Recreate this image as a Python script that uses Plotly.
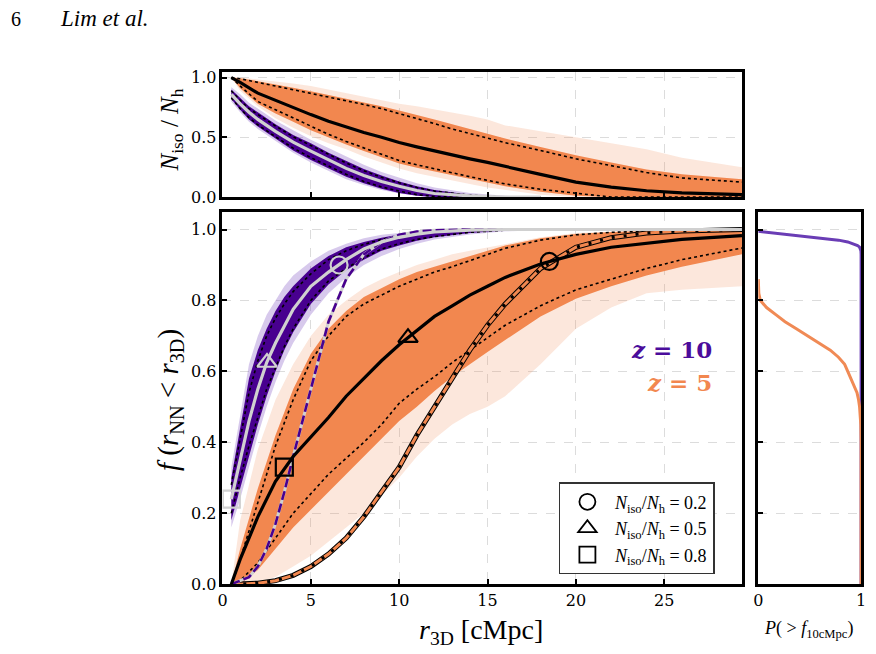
import plotly.graph_objects as go

# ---------------- data ----------------
# main panel, z = 5
X5 = [0.5, 1, 2, 3, 4, 5, 6, 7, 8, 9, 10, 11, 12, 13, 14, 15, 16, 18, 20, 22, 24, 26, 29.4]
z5_median = [0.0, 0.07, 0.19, 0.29, 0.36, 0.415, 0.47, 0.53, 0.58, 0.63, 0.675, 0.715, 0.755, 0.785, 0.815, 0.84, 0.865, 0.903, 0.93, 0.95, 0.962, 0.972, 0.983]
z5_dot_hi = [0.0, 0.07, 0.23, 0.39, 0.52, 0.63, 0.70, 0.755, 0.79, 0.815, 0.84, 0.86, 0.88, 0.895, 0.912, 0.93, 0.947, 0.97, 0.985, 0.992, 0.996, 0.998, 1.0]
z5_dot_lo = [0.0, 0.01, 0.06, 0.13, 0.20, 0.255, 0.31, 0.355, 0.40, 0.45, 0.51, 0.55, 0.585, 0.625, 0.66, 0.695, 0.73, 0.785, 0.83, 0.86, 0.89, 0.915, 0.948]
z5_band_hi = [0.0, 0.10, 0.27, 0.42, 0.55, 0.65, 0.72, 0.77, 0.81, 0.835, 0.86, 0.88, 0.895, 0.91, 0.925, 0.94, 0.955, 0.975, 0.987, 0.993, 0.996, 0.998, 1.0]
z5_band_lo = [0.0, 0.0, 0.04, 0.10, 0.16, 0.21, 0.26, 0.31, 0.36, 0.41, 0.46, 0.50, 0.545, 0.585, 0.62, 0.655, 0.69, 0.755, 0.805, 0.84, 0.87, 0.895, 0.93]
z5_env_hi = [0.0, 0.18, 0.38, 0.52, 0.62, 0.70, 0.76, 0.80, 0.835, 0.86, 0.88, 0.90, 0.915, 0.93, 0.94, 0.95, 0.96, 0.978, 0.99, 0.995, 0.998, 1.0, 1.0]
z5_env_lo = [0.0, 0.0, 0.005, 0.02, 0.05, 0.08, 0.12, 0.16, 0.20, 0.25, 0.30, 0.36, 0.41, 0.45, 0.48, 0.50, 0.53, 0.62, 0.72, 0.78, 0.82, 0.83, 0.84]
z5_random = [0.0, 0.0, 0.003, 0.01, 0.025, 0.05, 0.085, 0.13, 0.19, 0.26, 0.33, 0.42, 0.50, 0.58, 0.66, 0.73, 0.79, 0.89, 0.95, 0.977, 0.99, 0.996, 1.0]

# main panel, z = 10
X10 = [0.5, 1, 1.5, 2, 2.5, 3, 3.5, 4, 5, 6, 7, 8, 9, 10, 11, 12, 14, 16, 20, 29.4]
z10_median = [0.24, 0.35, 0.46, 0.55, 0.625, 0.68, 0.73, 0.775, 0.84, 0.88, 0.915, 0.945, 0.965, 0.978, 0.987, 0.993, 0.998, 1.0, 1.0, 1.0]
z10_band_hi = [0.30, 0.44, 0.58, 0.66, 0.72, 0.77, 0.81, 0.84, 0.89, 0.925, 0.95, 0.965, 0.977, 0.986, 0.992, 0.996, 0.999, 1.0, 1.0, 1.0]
z10_band_lo = [0.18, 0.27, 0.36, 0.45, 0.53, 0.60, 0.66, 0.71, 0.79, 0.845, 0.885, 0.915, 0.94, 0.955, 0.968, 0.978, 0.99, 0.997, 1.0, 1.0]
z10_env_hi = [0.33, 0.48, 0.62, 0.70, 0.76, 0.80, 0.84, 0.87, 0.91, 0.94, 0.96, 0.975, 0.985, 0.99, 0.995, 0.998, 1.0, 1.0, 1.0, 1.0]
z10_env_lo = [0.16, 0.24, 0.33, 0.42, 0.50, 0.57, 0.63, 0.68, 0.76, 0.82, 0.865, 0.90, 0.925, 0.945, 0.96, 0.972, 0.986, 0.995, 1.0, 1.0]
z10_dot_hi = [0.28, 0.41, 0.54, 0.63, 0.70, 0.75, 0.79, 0.825, 0.875, 0.915, 0.94, 0.958, 0.972, 0.982, 0.989, 0.994, 0.998, 1.0, 1.0, 1.0]
z10_dot_lo = [0.20, 0.30, 0.39, 0.47, 0.55, 0.61, 0.67, 0.72, 0.80, 0.855, 0.89, 0.92, 0.945, 0.96, 0.972, 0.98, 0.992, 0.998, 1.0, 1.0]
z10_random = [0.0, 0.01, 0.02, 0.05, 0.10, 0.17, 0.26, 0.36, 0.55, 0.74, 0.86, 0.93, 0.965, 0.985, 0.994, 0.998, 1.0, 1.0, 1.0, 1.0]

# markers: N_iso/N_h = 0.2 (circle), 0.5 (triangle), 0.8 (square)
iso_levels = [0.2, 0.5, 0.8]
z5_mark_x = [18.5, 10.5, 3.5]
z5_mark_y = [0.91, 0.695, 0.33]
z10_mark_x = [6.6, 2.52, 0.5]
z10_mark_y = [0.90, 0.625, 0.24]

# top panel  N_iso / N_h
XT5 = [0.5, 1, 2, 3, 4, 5, 6, 7, 8, 9, 10, 11, 12, 13, 14, 15, 16, 18, 20, 22, 24, 26, 29.4]
t5_median = [1.0, 0.96, 0.87, 0.81, 0.745, 0.69, 0.635, 0.585, 0.54, 0.50, 0.456, 0.42, 0.385, 0.35, 0.32, 0.29, 0.255, 0.19, 0.125, 0.083, 0.053, 0.035, 0.02]
t5_dot_hi = [1.0, 0.99, 0.96, 0.93, 0.90, 0.87, 0.84, 0.81, 0.775, 0.74, 0.70, 0.66, 0.615, 0.57, 0.53, 0.49, 0.455, 0.39, 0.32, 0.263, 0.205, 0.16, 0.125]
t5_dot_lo = [1.0, 0.93, 0.80, 0.73, 0.66, 0.59, 0.525, 0.465, 0.41, 0.355, 0.305, 0.27, 0.235, 0.20, 0.17, 0.14, 0.11, 0.065, 0.03, 0.0, 0.0, 0.0, 0.0]
t5_band_hi = [1.0, 0.995, 0.97, 0.945, 0.915, 0.885, 0.855, 0.825, 0.79, 0.76, 0.725, 0.69, 0.65, 0.61, 0.57, 0.53, 0.49, 0.42, 0.35, 0.29, 0.23, 0.19, 0.15]
t5_band_lo = [1.0, 0.91, 0.78, 0.70, 0.63, 0.56, 0.50, 0.44, 0.385, 0.33, 0.28, 0.245, 0.21, 0.18, 0.15, 0.12, 0.09, 0.045, 0.01, 0.0, 0.0, 0.0, 0.0]
t5_env_hi = [1.0, 1.0, 0.985, 0.97, 0.95, 0.93, 0.90, 0.87, 0.84, 0.81, 0.78, 0.76, 0.735, 0.71, 0.68, 0.65, 0.60, 0.55, 0.50, 0.45, 0.40, 0.33, 0.25]
t5_env_lo = [1.0, 0.89, 0.76, 0.66, 0.58, 0.51, 0.45, 0.40, 0.34, 0.29, 0.24, 0.20, 0.17, 0.14, 0.11, 0.08, 0.06, 0.02, 0.0, 0.0, 0.0, 0.0, 0.0]

XT10 = [0.5, 1, 1.5, 2, 3, 4, 5, 6, 7, 8, 9, 10, 11, 12, 14, 16, 18]
t10_median = [0.86, 0.78, 0.71, 0.65, 0.55, 0.46, 0.385, 0.31, 0.24, 0.18, 0.13, 0.09, 0.055, 0.03, 0.01, 0.0, 0.0]
t10_band_hi = [0.90, 0.83, 0.76, 0.71, 0.61, 0.52, 0.45, 0.37, 0.30, 0.235, 0.18, 0.13, 0.09, 0.06, 0.02, 0.005, 0.0]
t10_band_lo = [0.82, 0.73, 0.65, 0.59, 0.49, 0.39, 0.31, 0.24, 0.17, 0.115, 0.07, 0.035, 0.012, 0.0, 0.0, 0.0, 0.0]
t10_env_hi = [0.92, 0.86, 0.79, 0.74, 0.64, 0.56, 0.48, 0.41, 0.34, 0.27, 0.21, 0.16, 0.115, 0.08, 0.035, 0.01, 0.0]
t10_env_lo = [0.80, 0.71, 0.63, 0.57, 0.47, 0.37, 0.29, 0.22, 0.15, 0.10, 0.06, 0.03, 0.01, 0.0, 0.0, 0.0, 0.0]
t10_dot_hi = [0.89, 0.81, 0.74, 0.69, 0.595, 0.505, 0.43, 0.355, 0.285, 0.22, 0.165, 0.12, 0.08, 0.05, 0.015, 0.0, 0.0]
t10_dot_lo = [0.83, 0.74, 0.665, 0.605, 0.505, 0.41, 0.33, 0.26, 0.19, 0.13, 0.085, 0.05, 0.02, 0.005, 0.0, 0.0, 0.0]

# right panel  P(> f_10cMpc)
p10_f = [0.995, 0.99, 0.985, 0.98, 0.975, 0.97, 0.965, 0.96, 0.955, 0.95, 0.94, 0.93, 0.0]
p10_P = [0.0, 0.15, 0.32, 0.48, 0.64, 0.78, 0.87, 0.93, 0.965, 0.985, 0.998, 1.0, 1.0]
p5_f = [0.86, 0.82, 0.80, 0.78, 0.76, 0.74, 0.72, 0.70, 0.68, 0.66, 0.64, 0.62, 0.60, 0.58, 0.56, 0.54, 0.52, 0.50, 0.45, 0.40, 0.0]
p5_P = [0.0, 0.005, 0.02, 0.08, 0.17, 0.26, 0.37, 0.48, 0.60, 0.70, 0.78, 0.84, 0.87, 0.90, 0.935, 0.96, 0.975, 0.985, 0.997, 1.0, 1.0]

main_xticks = [0, 5, 10, 15, 20, 25]
main_yticks = [0.0, 0.2, 0.4, 0.6, 0.8, 1.0]
top_yticks = [0.0, 0.5, 1.0]

# ---------------- style ----------------
ORANGE = "#F2874F"
ORANGE_LT = "rgba(242,135,79,0.20)"
PURPLE = "#48008F"
PURPLE_LT = "rgba(110,60,185,0.28)"
PURPLE_LINE = "#6A3DB5"
ORANGE_LINE = "#F08A55"
GRAY = "#D0D0D0"
SERIF = "DejaVu Serif"
MATH = "Liberation Serif"

W, H = 876, 654


def band(x, hi, lo, color, xa, ya):
    return go.Scatter(x=list(x) + list(x)[::-1], y=list(hi) + list(lo)[::-1],
                      fill="toself", fillcolor=color, line=dict(width=0),
                      mode="lines", hoverinfo="skip", showlegend=False,
                      xaxis=xa, yaxis=ya)


def line(x, y, color, width, xa, ya, dash="solid"):
    return go.Scatter(x=x, y=y, mode="lines", line=dict(color=color, width=width, dash=dash),
                      hoverinfo="skip", showlegend=False, xaxis=xa, yaxis=ya)


fig = go.Figure()

# ----- top panel -----
fig.add_trace(band(XT5, t5_env_hi, t5_env_lo, ORANGE_LT, "x2", "y2"))
fig.add_trace(band(XT5, t5_band_hi, t5_band_lo, ORANGE, "x2", "y2"))
fig.add_trace(band(XT10, t10_env_hi, t10_env_lo, PURPLE_LT, "x2", "y2"))
fig.add_trace(band(XT10, t10_band_hi, t10_band_lo, PURPLE, "x2", "y2"))
for arr in (t5_dot_hi, t5_dot_lo):
    fig.add_trace(line(XT5, arr, "black", 1.6, "x2", "y2", "dot"))
for arr in (t10_dot_hi, t10_dot_lo):
    fig.add_trace(line(XT10, arr, "black", 1.6, "x2", "y2", "dot"))
fig.add_trace(line(XT5, t5_median, "black", 3.2, "x2", "y2"))
fig.add_trace(line(XT10, t10_median, GRAY, 3.2, "x2", "y2"))

# ----- main panel -----
fig.add_trace(band(X5, z5_env_hi, z5_env_lo, ORANGE_LT, "x", "y"))
fig.add_trace(band(X5, z5_band_hi, z5_band_lo, ORANGE, "x", "y"))
fig.add_trace(band(X10, z10_env_hi, z10_env_lo, PURPLE_LT, "x", "y"))
fig.add_trace(band(X10, z10_band_hi, z10_band_lo, PURPLE, "x", "y"))
for arr in (z5_dot_hi, z5_dot_lo):
    fig.add_trace(line(X5, arr, "black", 1.6, "x", "y", "dot"))
for arr in (z10_dot_hi, z10_dot_lo):
    fig.add_trace(line(X10, arr, "black", 1.6, "x", "y", "dot"))
# random expectation curves
fig.add_trace(line(X5, z5_random, "black", 5, "x", "y"))
fig.add_trace(line(X5, z5_random, ORANGE, 3, "x", "y"))
fig.add_trace(line(X5, z5_random, "black", 3, "x", "y", "3px,9px"))
fig.add_trace(line(X10, z10_random, GRAY, 3, "x", "y"))
fig.add_trace(line(X10, z10_random, PURPLE, 2.6, "x", "y", "9px,4px"))
# medians
fig.add_trace(line(X5, z5_median, "black", 3.2, "x", "y"))
fig.add_trace(line(X10, z10_median, GRAY, 3.2, "x", "y"))

symbols = ["circle-open", "triangle-up-open", "square-open"]
fig.add_trace(go.Scatter(x=z5_mark_x, y=z5_mark_y, mode="markers",
                         marker=dict(symbol=symbols, size=17, color="black", line=dict(width=2.2, color="black")),
                         showlegend=False, hoverinfo="skip", xaxis="x", yaxis="y"))
fig.add_trace(go.Scatter(x=z10_mark_x, y=z10_mark_y, mode="markers",
                         marker=dict(symbol=symbols, size=17, color=GRAY, line=dict(width=2.2, color=GRAY)),
                         showlegend=False, hoverinfo="skip", xaxis="x", yaxis="y"))
# legend entries
for sym, lev in zip(symbols, iso_levels):
    fig.add_trace(go.Scatter(x=[None], y=[None], mode="markers",
                             marker=dict(symbol=sym, size=17, color="black", line=dict(width=1.8, color="black")),
                             name=f"<i>N</i><sub>iso</sub>/<i>N</i><sub>h</sub> = {lev}",
                             showlegend=True, xaxis="x", yaxis="y"))

# ----- right panel -----
fig.add_trace(line(p10_P, p10_f, PURPLE_LINE, 3, "x3", "y3"))
fig.add_trace(line(p5_P, p5_f, ORANGE_LINE, 3, "x3", "y3"))

# ---------------- layout ----------------
main_dom_x = [220 / W, 746 / W]
main_dom_y = [1 - 593 / H, 1 - 213 / H]
top_dom_y = [1 - 198 / H, 1 - 70 / H]
right_dom_x = [762 / W, 866 / W]

axis_common = dict(showline=True, mirror=True, linecolor="black", linewidth=2.5,
                   ticks="inside", ticklen=5, tickwidth=2, tickcolor="black",
                   showgrid=True, gridcolor="#DCDCDC", gridwidth=1, griddash="dash",
                   zeroline=False, tickfont=dict(family=SERIF, size=16, color="black"))

fig.update_layout(
    width=W, height=H, margin=dict(l=0, r=0, t=0, b=0),
    paper_bgcolor="white", plot_bgcolor="white",
    xaxis=dict(axis_common, domain=main_dom_x, range=[0, 29.43], tickvals=main_xticks, anchor="y"),
    yaxis=dict(axis_common, domain=main_dom_y, range=[0, 1.05], tickvals=main_yticks,
               tickformat=".1f", anchor="x"),
    xaxis2=dict(axis_common, domain=main_dom_x, range=[0, 29.43], tickvals=main_xticks,
                showticklabels=False, anchor="y2"),
    yaxis2=dict(axis_common, domain=top_dom_y, range=[0, 1.05], tickvals=top_yticks,
                tickformat=".1f", anchor="x2"),
    xaxis3=dict(axis_common, domain=right_dom_x, range=[0, 1], tickvals=[0, 1], showgrid=False,
                ticks="", anchor="y3"),
    yaxis3=dict(axis_common, domain=main_dom_y, range=[0, 1.05], tickvals=main_yticks,
                showticklabels=False, anchor="x3"),
    legend=dict(x=560 / W, y=1 - 489 / H, xanchor="left", yanchor="top",
                bgcolor="white", bordercolor="#333333", borderwidth=1.3,
                font=dict(family=MATH, size=18, color="black"), tracegroupgap=2,
                itemsizing="trace", itemwidth=45),
    showlegend=True,
)

ann = [
    dict(text="6", x=4 / W, y=1 - 16 / H, xanchor="left", font=dict(family=MATH, size=20)),
    dict(text="Lim et al.", x=54 / W, y=1 - 16 / H, xanchor="left",
         font=dict(family=MATH, size=23, style="italic")),
    dict(text="<i>r</i><sub>3D</sub> [cMpc]", x=482 / W, y=1 - 641 / H, xanchor="center", font=dict(family=MATH, size=28)),
    dict(text="<i>f</i> (<i>r</i><sub>NN</sub> &lt; <i>r</i><sub>3D</sub>)", x=167 / W, y=1 - 405 / H,
         xanchor="center", textangle=-90, font=dict(family=MATH, size=29)),
    dict(text="<i>N</i><sub>iso</sub> / <i>N</i><sub>h</sub>", x=168 / W, y=1 - 130 / H,
         xanchor="center", textangle=-90, font=dict(family=MATH, size=25)),
    dict(text="<i>P</i>( &gt; <i>f</i><sub>10cMpc</sub>)", x=813 / W, y=1 - 639 / H,
         xanchor="center", font=dict(family=MATH, size=18)),
]
for a in ann:
    a.update(xref="paper", yref="paper", showarrow=False, font=dict(a["font"], color="black"))
    a["yanchor"] = "middle"
    fig.add_annotation(**a)

fig.add_annotation(text="<b><i>z</i> = 10</b>", x=27.8, y=0.662, xref="x", yref="y", xanchor="right",
                   showarrow=False, font=dict(family=SERIF, size=23, color="#4B0C9B"))
fig.add_annotation(text="<b><i>z</i> = 5</b>", x=27.8, y=0.57, xref="x", yref="y", xanchor="right",
                   showarrow=False, font=dict(family=SERIF, size=23, color=ORANGE))

fig.write_html("out.html")
